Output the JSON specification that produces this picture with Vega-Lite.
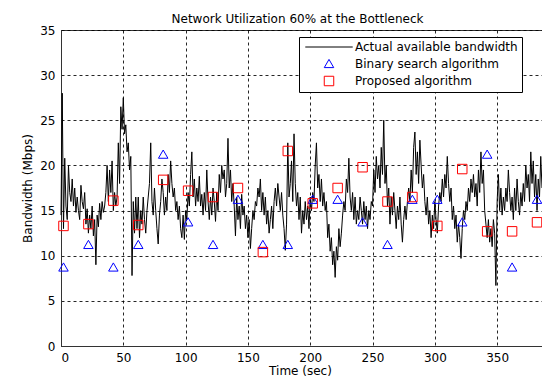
{
  "$schema": "https://vega.github.io/schema/vega-lite/v6.json",
  "width": 481,
  "height": 316,
  "autosize": {"type": "none"},
  "padding": {"left": 61, "top": 30, "right": 0, "bottom": 33},
  "background": "white",
  "title": {"text": "Network Utilization 60% at the Bottleneck", "font": "DejaVu Sans", "fontSize": 12, "fontWeight": "normal", "color": "black", "baseline": "alphabetic", "offset": -11, "dx": -4},
  "config": {
    "view": {"stroke": "#333333", "strokeWidth": 1},
    "axis": {
      "labelFont": "DejaVu Sans", "labelFontSize": 12, "labelColor": "black",
      "titleFont": "DejaVu Sans", "titleFontSize": 12, "titleFontWeight": "normal", "titleColor": "black",
      "domainColor": "#333333", "domainWidth": 1,
      "grid": true, "gridColor": "black", "gridDash": [3, 3], "gridOpacity": 0.85, "gridWidth": 1,
      "tickSize": 0, "labelPadding": 6
    },
    "legend": {
      "orient": "none", "legendX": 238, "legendY": 7, "strokeColor": "black", "fillColor": "white", "padding": 4,
      "labelFont": "DejaVu Sans", "labelFontSize": 12, "labelColor": "black", "labelLimit": 400,
      "symbolSize": 90, "symbolStrokeWidth": 1, "rowPadding": 3.5, "symbolOffset": 20, "labelOffset": 20
    }
  },
  "datasets": {
    "bw": [
      {"t":0,"v":14.5},{"t":1,"v":28.0},{"t":2,"v":13.0},{"t":3,"v":20.8},{"t":4,"v":15.5},{"t":5,"v":14.0},{"t":6,"v":20.0},{"t":7,"v":17.0},{"t":8,"v":16.0},{"t":9,"v":18.5},
      {"t":10,"v":15.5},{"t":11,"v":17.5},{"t":12,"v":14.8},{"t":13,"v":16.5},{"t":14,"v":15.0},{"t":15,"v":14.0},{"t":16,"v":17.8},{"t":17,"v":16.0},{"t":18,"v":15.2},{"t":19,"v":17.0},
      {"t":20,"v":13.5},{"t":21,"v":15.2},{"t":22,"v":12.5},{"t":23,"v":14.5},{"t":24,"v":13.0},{"t":25,"v":15.5},{"t":26,"v":12.2},{"t":27,"v":14.0},{"t":28,"v":9.0},{"t":29,"v":14.5},
      {"t":30,"v":13.2},{"t":31,"v":15.8},{"t":32,"v":14.0},{"t":33,"v":16.0},{"t":34,"v":14.8},{"t":35,"v":15.5},{"t":36,"v":17.0},{"t":37,"v":20.0},{"t":38,"v":16.0},{"t":39,"v":19.5},
      {"t":40,"v":17.0},{"t":41,"v":20.5},{"t":42,"v":15.0},{"t":43,"v":17.0},{"t":44,"v":15.5},{"t":45,"v":16.5},{"t":46,"v":22.5},{"t":47,"v":18.0},{"t":48,"v":26.5},{"t":49,"v":24.0},
      {"t":50,"v":27.5},{"t":51,"v":23.5},{"t":52,"v":24.5},{"t":53,"v":21.5},{"t":54,"v":22.5},{"t":55,"v":19.5},{"t":56,"v":21.0},{"t":57,"v":7.8},{"t":58,"v":16.0},{"t":59,"v":12.5},
      {"t":60,"v":16.5},{"t":61,"v":13.0},{"t":62,"v":16.5},{"t":63,"v":12.0},{"t":64,"v":15.0},{"t":65,"v":13.5},{"t":66,"v":16.5},{"t":67,"v":14.0},{"t":68,"v":12.5},{"t":69,"v":15.0},
      {"t":70,"v":16.5},{"t":71,"v":18.0},{"t":72,"v":22.5},{"t":73,"v":16.0},{"t":74,"v":14.5},{"t":75,"v":17.5},{"t":76,"v":15.0},{"t":77,"v":13.0},{"t":78,"v":11.3},{"t":79,"v":14.5},
      {"t":80,"v":16.0},{"t":81,"v":18.5},{"t":82,"v":17.0},{"t":83,"v":14.5},{"t":84,"v":16.5},{"t":85,"v":15.0},{"t":86,"v":19.0},{"t":87,"v":17.0},{"t":88,"v":20.5},{"t":89,"v":18.0},
      {"t":90,"v":16.5},{"t":91,"v":17.5},{"t":92,"v":15.0},{"t":93,"v":16.0},{"t":94,"v":14.0},{"t":95,"v":15.5},{"t":96,"v":13.0},{"t":97,"v":12.0},{"t":98,"v":14.5},{"t":99,"v":11.8},
      {"t":100,"v":15.0},{"t":101,"v":14.0},{"t":102,"v":17.0},{"t":103,"v":15.5},{"t":104,"v":19.0},{"t":105,"v":21.5},{"t":106,"v":16.5},{"t":107,"v":18.5},{"t":108,"v":15.5},{"t":109,"v":17.5},
      {"t":110,"v":16.0},{"t":111,"v":18.8},{"t":112,"v":15.5},{"t":113,"v":16.8},{"t":114,"v":14.5},{"t":115,"v":17.0},{"t":116,"v":15.0},{"t":117,"v":19.5},{"t":118,"v":16.0},{"t":119,"v":14.0},
      {"t":120,"v":16.5},{"t":121,"v":14.5},{"t":122,"v":17.5},{"t":123,"v":16.0},{"t":124,"v":13.8},{"t":125,"v":17.0},{"t":126,"v":15.0},{"t":127,"v":19.0},{"t":128,"v":17.0},{"t":129,"v":20.0},
      {"t":130,"v":18.5},{"t":131,"v":19.5},{"t":132,"v":16.5},{"t":133,"v":18.0},{"t":134,"v":23.0},{"t":135,"v":17.5},{"t":136,"v":19.5},{"t":137,"v":16.0},{"t":138,"v":18.0},{"t":139,"v":15.5},
      {"t":140,"v":12.2},{"t":141,"v":16.5},{"t":142,"v":14.0},{"t":143,"v":15.5},{"t":144,"v":13.0},{"t":145,"v":16.8},{"t":146,"v":14.5},{"t":147,"v":15.5},{"t":148,"v":13.0},{"t":149,"v":14.5},
      {"t":150,"v":12.0},{"t":151,"v":14.0},{"t":152,"v":10.8},{"t":153,"v":13.0},{"t":154,"v":15.0},{"t":155,"v":14.0},{"t":156,"v":16.0},{"t":157,"v":15.5},{"t":158,"v":17.5},{"t":159,"v":16.5},
      {"t":160,"v":18.5},{"t":161,"v":15.0},{"t":162,"v":17.0},{"t":163,"v":14.5},{"t":164,"v":16.5},{"t":165,"v":13.5},{"t":166,"v":15.0},{"t":167,"v":12.5},{"t":168,"v":14.0},{"t":169,"v":15.5},
      {"t":170,"v":13.0},{"t":171,"v":16.0},{"t":172,"v":17.5},{"t":173,"v":15.5},{"t":174,"v":18.0},{"t":175,"v":16.5},{"t":176,"v":15.0},{"t":177,"v":17.0},{"t":178,"v":14.5},{"t":179,"v":13.0},
      {"t":180,"v":10.6},{"t":181,"v":13.5},{"t":182,"v":22.5},{"t":183,"v":16.5},{"t":184,"v":18.0},{"t":185,"v":20.5},{"t":186,"v":16.0},{"t":187,"v":23.5},{"t":188,"v":18.0},{"t":189,"v":15.5},
      {"t":190,"v":17.0},{"t":191,"v":14.0},{"t":192,"v":16.5},{"t":193,"v":12.5},{"t":194,"v":15.0},{"t":195,"v":13.5},{"t":196,"v":16.0},{"t":197,"v":14.0},{"t":198,"v":15.5},{"t":199,"v":13.0},
      {"t":200,"v":16.5},{"t":201,"v":15.0},{"t":202,"v":17.0},{"t":203,"v":16.0},{"t":204,"v":20.0},{"t":205,"v":22.5},{"t":206,"v":17.5},{"t":207,"v":19.0},{"t":208,"v":16.0},{"t":209,"v":18.5},
      {"t":210,"v":15.5},{"t":211,"v":17.0},{"t":212,"v":15.0},{"t":213,"v":16.0},{"t":214,"v":12.0},{"t":215,"v":13.5},{"t":216,"v":10.5},{"t":217,"v":12.0},{"t":218,"v":9.0},{"t":219,"v":10.5},
      {"t":220,"v":7.6},{"t":221,"v":11.0},{"t":222,"v":9.5},{"t":223,"v":13.0},{"t":224,"v":11.0},{"t":225,"v":12.5},{"t":226,"v":14.5},{"t":227,"v":16.0},{"t":228,"v":15.0},{"t":229,"v":18.5},
      {"t":230,"v":17.0},{"t":231,"v":20.8},{"t":232,"v":16.5},{"t":233,"v":15.0},{"t":234,"v":17.0},{"t":235,"v":14.0},{"t":236,"v":16.5},{"t":237,"v":13.5},{"t":238,"v":15.0},{"t":239,"v":14.0},
      {"t":240,"v":16.5},{"t":241,"v":15.0},{"t":242,"v":13.5},{"t":243,"v":16.0},{"t":244,"v":14.0},{"t":245,"v":15.5},{"t":246,"v":13.0},{"t":247,"v":15.0},{"t":248,"v":14.0},{"t":249,"v":16.0},
      {"t":250,"v":15.5},{"t":251,"v":19.5},{"t":252,"v":17.0},{"t":253,"v":21.0},{"t":254,"v":18.5},{"t":255,"v":20.0},{"t":256,"v":17.5},{"t":257,"v":22.0},{"t":258,"v":19.0},{"t":259,"v":25.0},
      {"t":260,"v":18.0},{"t":261,"v":20.0},{"t":262,"v":15.5},{"t":263,"v":17.5},{"t":264,"v":13.5},{"t":265,"v":16.5},{"t":266,"v":14.5},{"t":267,"v":17.0},{"t":268,"v":15.0},{"t":269,"v":13.0},
      {"t":270,"v":15.5},{"t":271,"v":14.0},{"t":272,"v":16.5},{"t":273,"v":13.5},{"t":274,"v":11.5},{"t":275,"v":14.0},{"t":276,"v":15.5},{"t":277,"v":14.0},{"t":278,"v":16.0},{"t":279,"v":17.5},
      {"t":280,"v":16.0},{"t":281,"v":19.5},{"t":282,"v":17.0},{"t":283,"v":22.0},{"t":284,"v":23.7},{"t":285,"v":19.0},{"t":286,"v":21.5},{"t":287,"v":18.0},{"t":288,"v":22.8},{"t":289,"v":20.0},
      {"t":290,"v":17.5},{"t":291,"v":19.0},{"t":292,"v":16.0},{"t":293,"v":14.5},{"t":294,"v":16.5},{"t":295,"v":13.5},{"t":296,"v":15.0},{"t":297,"v":12.0},{"t":298,"v":14.5},{"t":299,"v":13.0},
      {"t":300,"v":16.0},{"t":301,"v":14.0},{"t":302,"v":12.5},{"t":303,"v":15.5},{"t":304,"v":17.0},{"t":305,"v":16.0},{"t":306,"v":18.5},{"t":307,"v":16.5},{"t":308,"v":19.0},{"t":309,"v":17.5},
      {"t":310,"v":21.0},{"t":311,"v":18.0},{"t":312,"v":16.0},{"t":313,"v":17.5},{"t":314,"v":14.0},{"t":315,"v":15.5},{"t":316,"v":13.0},{"t":317,"v":14.5},{"t":318,"v":11.5},{"t":319,"v":13.5},
      {"t":320,"v":12.0},{"t":321,"v":9.7},{"t":322,"v":13.0},{"t":323,"v":15.0},{"t":324,"v":14.0},{"t":325,"v":16.0},{"t":326,"v":15.0},{"t":327,"v":17.5},{"t":328,"v":16.0},{"t":329,"v":18.5},
      {"t":330,"v":17.0},{"t":331,"v":19.0},{"t":332,"v":16.5},{"t":333,"v":18.0},{"t":334,"v":15.5},{"t":335,"v":19.5},{"t":336,"v":17.0},{"t":337,"v":21.5},{"t":338,"v":18.0},{"t":339,"v":19.5},
      {"t":340,"v":15.0},{"t":341,"v":13.5},{"t":342,"v":12.0},{"t":343,"v":14.0},{"t":344,"v":11.5},{"t":345,"v":13.0},{"t":346,"v":11.0},{"t":347,"v":14.0},{"t":348,"v":12.5},{"t":349,"v":6.7},
      {"t":350,"v":16.0},{"t":351,"v":19.0},{"t":352,"v":15.0},{"t":353,"v":17.5},{"t":354,"v":14.5},{"t":355,"v":16.5},{"t":356,"v":15.0},{"t":357,"v":17.5},{"t":358,"v":16.0},{"t":359,"v":19.5},
      {"t":360,"v":17.0},{"t":361,"v":15.0},{"t":362,"v":16.5},{"t":363,"v":14.0},{"t":364,"v":17.5},{"t":365,"v":15.0},{"t":366,"v":18.5},{"t":367,"v":16.0},{"t":368,"v":14.5},{"t":369,"v":17.0},
      {"t":370,"v":15.5},{"t":371,"v":18.0},{"t":372,"v":16.0},{"t":373,"v":20.0},{"t":374,"v":17.5},{"t":375,"v":19.0},{"t":376,"v":16.0},{"t":377,"v":21.5},{"t":378,"v":18.0},{"t":379,"v":20.5},
      {"t":380,"v":16.5},{"t":381,"v":19.0},{"t":382,"v":15.0},{"t":383,"v":18.5},{"t":384,"v":16.5},{"t":385,"v":21.0},{"t":386,"v":17.5}
    ],
    "alg": [
      {"t":2,"v":8.75,"series":"Binary search algorithm"},{"t":22,"v":11.25,"series":"Binary search algorithm"},{"t":42,"v":8.75,"series":"Binary search algorithm"},{"t":62,"v":11.25,"series":"Binary search algorithm"},
      {"t":82,"v":21.25,"series":"Binary search algorithm"},{"t":102,"v":13.75,"series":"Binary search algorithm"},{"t":122,"v":11.25,"series":"Binary search algorithm"},{"t":142,"v":16.25,"series":"Binary search algorithm"},
      {"t":162,"v":11.25,"series":"Binary search algorithm"},{"t":182,"v":11.25,"series":"Binary search algorithm"},{"t":202,"v":16.25,"series":"Binary search algorithm"},{"t":222,"v":16.25,"series":"Binary search algorithm"},
      {"t":242,"v":13.75,"series":"Binary search algorithm"},{"t":262,"v":11.25,"series":"Binary search algorithm"},{"t":282,"v":16.25,"series":"Binary search algorithm"},{"t":302,"v":16.25,"series":"Binary search algorithm"},
      {"t":322,"v":13.75,"series":"Binary search algorithm"},{"t":342,"v":21.25,"series":"Binary search algorithm"},{"t":362,"v":8.75,"series":"Binary search algorithm"},{"t":382,"v":16.25,"series":"Binary search algorithm"},
      {"t":2,"v":13.3,"series":"Proposed algorithm"},{"t":22,"v":13.5,"series":"Proposed algorithm"},{"t":42,"v":16.1,"series":"Proposed algorithm"},{"t":62,"v":13.4,"series":"Proposed algorithm"},
      {"t":82,"v":18.4,"series":"Proposed algorithm"},{"t":102,"v":17.2,"series":"Proposed algorithm"},{"t":122,"v":16.5,"series":"Proposed algorithm"},{"t":142,"v":17.5,"series":"Proposed algorithm"},
      {"t":162,"v":10.4,"series":"Proposed algorithm"},{"t":182,"v":21.6,"series":"Proposed algorithm"},{"t":202,"v":15.8,"series":"Proposed algorithm"},{"t":222,"v":17.5,"series":"Proposed algorithm"},
      {"t":242,"v":19.8,"series":"Proposed algorithm"},{"t":262,"v":16.0,"series":"Proposed algorithm"},{"t":282,"v":16.5,"series":"Proposed algorithm"},{"t":302,"v":13.3,"series":"Proposed algorithm"},
      {"t":322,"v":19.6,"series":"Proposed algorithm"},{"t":342,"v":12.7,"series":"Proposed algorithm"},{"t":362,"v":12.7,"series":"Proposed algorithm"},{"t":382,"v":13.7,"series":"Proposed algorithm"}
    ]
  },
  "layer": [
    {
      "data": {"name": "bw"},
      "mark": {"type": "line", "color": "black", "strokeWidth": 1},
      "encoding": {
        "x": {"field": "t", "type": "quantitative", "scale": {"domain": [0, 386], "nice": false, "zero": false},
              "axis": {"values": [0, 50, 100, 150, 200, 250, 300, 350], "title": "Time (sec)", "titlePadding": 2, "titleX": 239}},
        "y": {"field": "v", "type": "quantitative", "scale": {"domain": [0, 35], "nice": false},
              "axis": {"values": [0, 5, 10, 15, 20, 25, 30, 35], "title": "Bandwidth (Mbps)", "titlePadding": 5}}
      }
    },
    {
      "data": {"name": "alg"},
      "mark": {"type": "point", "filled": false, "size": 90, "strokeWidth": 1, "opacity": 1},
      "encoding": {
        "x": {"field": "t", "type": "quantitative"},
        "y": {"field": "v", "type": "quantitative"},
        "color": {"field": "series", "type": "nominal",
                  "scale": {"domain": ["Actual available bandwidth", "Binary search algorithm", "Proposed algorithm"], "range": ["black", "#0000ff", "#ff0000"]},
                  "legend": {"title": null}},
        "shape": {"field": "series", "type": "nominal",
                  "scale": {"domain": ["Actual available bandwidth", "Binary search algorithm", "Proposed algorithm"], "range": ["M-5,0H5", "triangle-up", "square"]},
                  "legend": {"title": null}}
      }
    }
  ]
}
